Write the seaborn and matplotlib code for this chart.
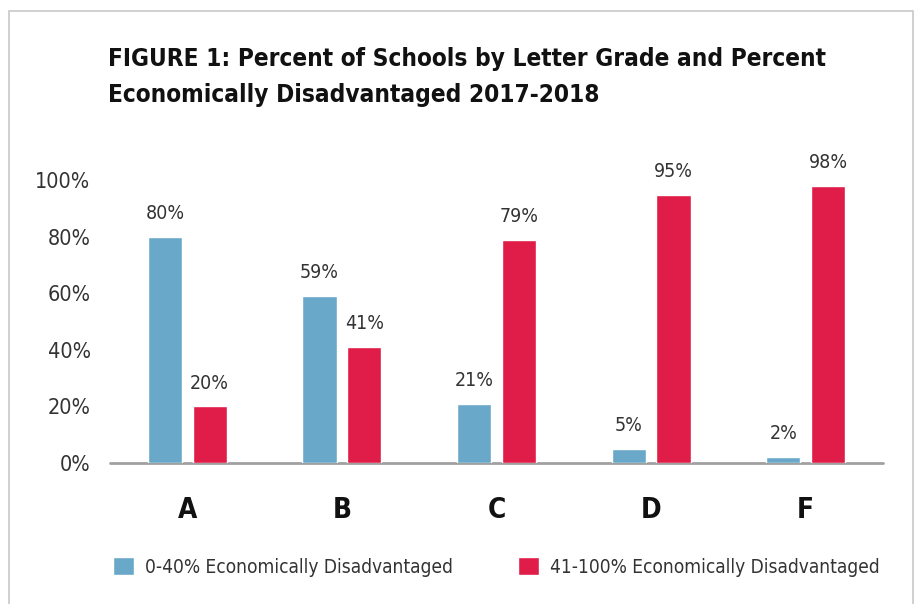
import matplotlib
matplotlib.use("Agg")
import matplotlib.pyplot as plt
from matplotlib.patches import Rectangle
import seaborn as sns
import pandas as pd

# Data
grades = ["A", "B", "C", "D", "F"]
low_disadv = [80, 59, 21, 5, 2]        # 0-40% economically disadvantaged
high_disadv = [20, 41, 79, 95, 98]     # 41-100% economically disadvantaged
series_names = ["0-40% Economically Disadvantaged", "41-100% Economically Disadvantaged"]
y_ticks = [0, 20, 40, 60, 80, 100]
y_tick_labels = ["0%", "20%", "40%", "60%", "80%", "100%"]
title = "FIGURE 1: Percent of Schools by Letter Grade and Percent\nEconomically Disadvantaged 2017-2018"

BLUE = "#6AA8C9"
RED = "#E01C48"
TEXT = "#333333"

df = pd.DataFrame({
    "grade": grades * 2,
    "group": [series_names[0]] * len(grades) + [series_names[1]] * len(grades),
    "pct": low_disadv + high_disadv,
})

sns.set_theme(style="white")
plt.rcParams["font.family"] = ["DejaVu Sans"]
plt.rcParams["font.stretch"] = "condensed"

fig = plt.figure(figsize=(9.2, 6.04), dpi=100)
ax = fig.add_axes([110 / 920, 1 - 463 / 604, 773 / 920, (463 - 166.3) / 604])

sns.barplot(data=df, x="grade", y="pct", hue="group", order=grades,
            hue_order=series_names, palette=[BLUE, RED],
            width=0.58, gap=0.24, saturation=1, ax=ax, legend=True)

for cont in ax.containers:
    ax.bar_label(cont, labels=[f"{v:.0f}%" for v in cont.datavalues],
                 padding=10, fontsize=14, color=TEXT, clip_on=False)

ax.set_xlim(-0.5, 4.5)
ax.set_ylim(0, 105)
ax.set_yticks(y_ticks)
ax.set_yticklabels(y_tick_labels)
ax.set_xlabel("")
ax.set_ylabel("")
for s in ax.spines.values():
    s.set_visible(False)
ax.tick_params(axis="y", length=0, pad=14, labelsize=15.5, labelcolor=TEXT)
ax.tick_params(axis="x", length=0, pad=24, labelsize=20, labelcolor="#111111")
for t in ax.get_xticklabels():
    t.set_fontweight("bold")

ax.axhline(0, color="#a0a0a0", lw=2, clip_on=False, zorder=0)

# Legend below the chart
handles, labels = ax.get_legend_handles_labels()
ax.legend(handles, labels, ncol=2, loc="center left",
          bbox_to_anchor=(113 / 920, 1 - 567 / 604), bbox_transform=fig.transFigure,
          frameon=False, fontsize=13.7, handlelength=1.1, handleheight=1.1,
          handletextpad=0.6, columnspacing=3.4, labelcolor=TEXT, borderaxespad=0,
          borderpad=0)

# Title
fig.text(108 / 920, 1 - 47 / 604, title, ha="left", va="top", fontsize=17.5,
         fontweight="bold", color="#111111", linespacing=1.62)

# Light frame around the figure
fig.add_artist(Rectangle((9 / 920, -0.05), (913 - 9) / 920, 1.05 - 11 / 604,
                         transform=fig.transFigure, fill=False,
                         edgecolor="#c8c8c8", lw=1.2))

fig.savefig("out.png", dpi=100, facecolor="white")
